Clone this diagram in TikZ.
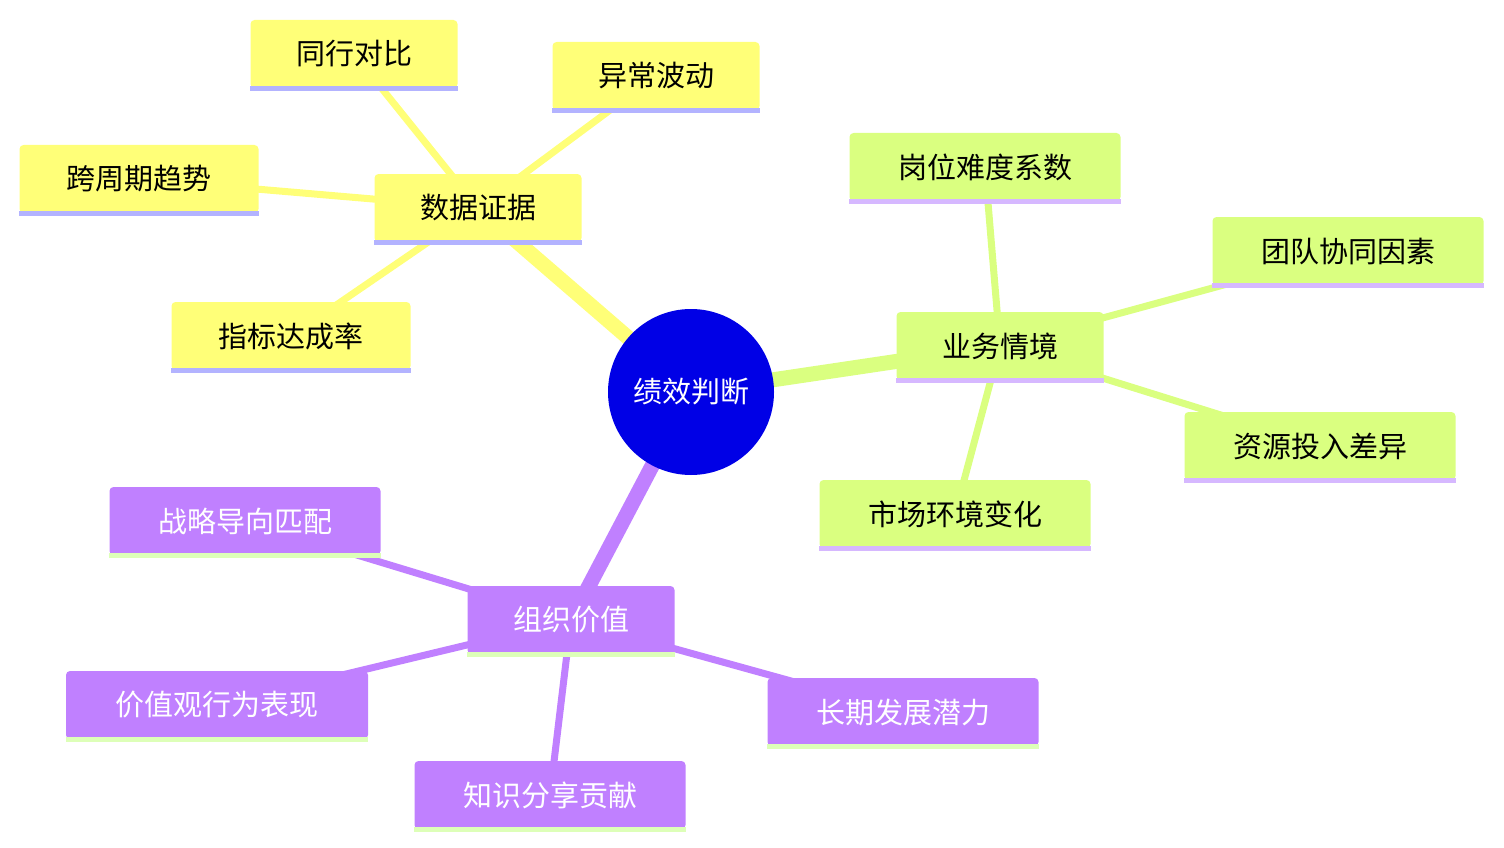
\documentclass[tikz,border=0pt]{standalone}
\usepackage{fontspec}
\newfontfamily\cjk{Noto Sans CJK SC}
\usetikzlibrary{backgrounds}
\definecolor{rootblue}{HTML}{0000E6}
\definecolor{datayellow}{HTML}{FFFF78}
\definecolor{bizgreen}{HTML}{DAFF80}
\definecolor{orgpurple}{HTML}{C080FF}
\definecolor{lavline}{HTML}{B3B3FF}
\definecolor{purpline}{HTML}{D6B8FF}
\definecolor{greenline}{HTML}{DDFFB8}
\tikzset{
  topic/.style 2 args={rectangle, rounded corners=4pt, fill=#1, inner sep=0pt,
    minimum height=68pt, font=\cjk\fontsize{29}{34}\selectfont,
    append after command={(\tikzlastnode.south west) edge[draw=#2, line width=5pt] (\tikzlastnode.south east)}},
  datanode/.style={topic={datayellow}{lavline}, minimum width=207pt},
  datalong/.style={topic={datayellow}{lavline}, minimum width=239pt},
  biznode/.style={topic={bizgreen}{purpline}, minimum width=207pt},
  bizlong/.style={topic={bizgreen}{purpline}, minimum width=271pt},
  orgnode/.style={topic={orgpurple}{greenline}, minimum width=207pt, text=white},
  orglong/.style={topic={orgpurple}{greenline}, minimum width=271pt, text=white},
  trunk/.style={line width=15pt, draw=#1},
  twig/.style={line width=7pt, draw=#1}
}
\begin{document}
\begin{tikzpicture}[x=1pt, y=-1pt]
  \useasboundingbox (0,0) rectangle (1504,848);

  \node[circle, fill=rootblue, minimum size=166pt, inner sep=0pt, text=white,
    font=\cjk\fontsize{29}{34}\selectfont] (root) at (691,392) {绩效判断};

  % 数据证据
  \node[datanode] (data) at (478,208) {数据证据};
  \node[datanode] (peer) at (354,54) {同行对比};
  \node[datanode] (spike) at (656,76) {异常波动};
  \node[datalong] (trend) at (139,179) {跨周期趋势};
  \node[datalong] (rate) at (291,336) {指标达成率};

  % 业务情境
  \node[biznode] (biz) at (1000,346) {业务情境};
  \node[bizlong] (difficulty) at (985,167) {岗位难度系数};
  \node[bizlong] (team) at (1348,251) {团队协同因素};
  \node[bizlong] (resource) at (1320,446) {资源投入差异};
  \node[bizlong] (market) at (955,514) {市场环境变化};

  % 组织价值
  \node[orgnode] (org) at (571,620) {组织价值};
  \node[orglong] (strategy) at (245,521) {战略导向匹配};
  \node[orglong, minimum width=302pt] (values) at (217,705) {价值观行为表现};
  \node[orglong] (knowledge) at (550,795) {知识分享贡献};
  \node[orglong] (potential) at (903,712) {长期发展潜力};

  \begin{scope}[on background layer]
    \draw[trunk=datayellow] (root.center) -- (data.center);
    \draw[trunk=bizgreen] (root.center) -- (biz.center);
    \draw[trunk=orgpurple] (root.center) -- (org.center);
    \foreach \leaf in {peer, spike, trend, rate}
      \draw[twig=datayellow] (data.center) -- (\leaf.center);
    \foreach \leaf in {difficulty, team, resource, market}
      \draw[twig=bizgreen] (biz.center) -- (\leaf.center);
    \foreach \leaf in {strategy, values, knowledge, potential}
      \draw[twig=orgpurple] (org.center) -- (\leaf.center);
  \end{scope}
\end{tikzpicture}
\end{document}
